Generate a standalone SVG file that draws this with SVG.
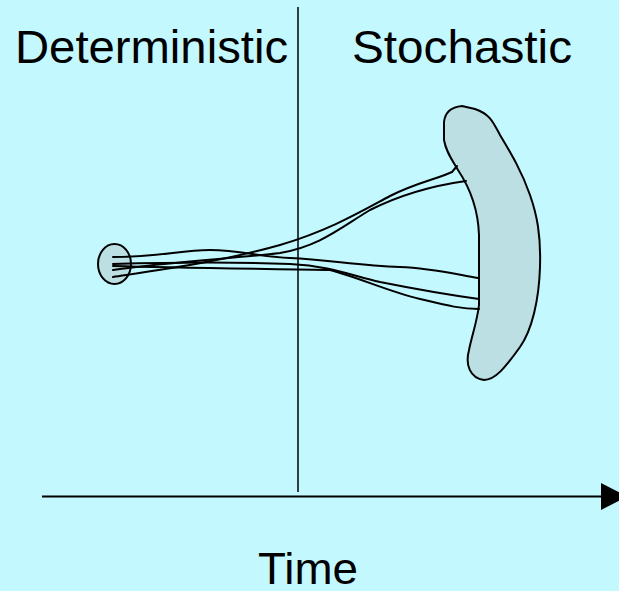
<svg xmlns="http://www.w3.org/2000/svg" width="619" height="591" viewBox="0 0 619 591">
<style>
.t{font-family:"Liberation Sans",Arial,sans-serif;fill:#000}
.c{fill:none;stroke:#000;stroke-width:2;stroke-linejoin:round;stroke-linecap:round}
.s{fill:#BBDFE3;stroke:#000;stroke-width:2;stroke-linejoin:round}
</style>
<rect width="619" height="591" fill="#C3F8FF"/>
<line x1="298" y1="7" x2="298" y2="492" stroke="#000" stroke-width="1.5"/>
<g id="axis">
<line x1="42" y1="496.5" x2="605" y2="496.5" stroke="#000" stroke-width="2"/>
<polygon points="601,483 627,496.5 601,510" fill="#000"/>
</g>
<text class="t" x="15" y="63" font-size="46" textLength="273" lengthAdjust="spacingAndGlyphs">Deterministic</text>
<text class="t" x="352" y="63" font-size="46" textLength="220" lengthAdjust="spacingAndGlyphs">Stochastic</text>
<text class="t" x="258" y="584" font-size="45" textLength="100" lengthAdjust="spacingAndGlyphs">Time</text>
<g id="start"><ellipse class="s" cx="114.5" cy="264" rx="16.5" ry="20"/></g>
<g id="end">
<path class="s" d="M462,106 C452,107 445,112 444,122 L444,140 C446,152 452,160 458,170 C468,185 478,205 479,235 L479,305 C477,322 472,335 469,350 C465,365 470,378 484,380 C495,380 505,368 520,347 C532,330 539,300 540,267 C541,235 537,215 530,195 C522,172 512,155 500,135 C493,122 490,114 475,109 Z"/>
</g>
<g id="connectors">
<path class="c" d="M113,277 C160,270 220,262 280,245 C330,230 360,212 390,196 C415,183 440,178 452,172 L457,166"/>
<path class="c" d="M113,270 C170,262 240,258 280,253 C320,246 340,228 370,210 C400,195 430,186 466,181"/>
<path class="c" d="M113,257 C160,257 180,250 210,250 C240,250 260,257 290,258 C330,260 360,266 400,267 C430,268 450,273 478,278"/>
<path class="c" d="M113,264 C180,262 240,262 290,264 C330,266 350,275 380,282 C420,290 450,295 479,299"/>
<path class="c" d="M113,266 C180,268 280,269 330,270 C360,278 390,292 420,299 C445,305 460,309 479,309"/>
</g>
</svg>
